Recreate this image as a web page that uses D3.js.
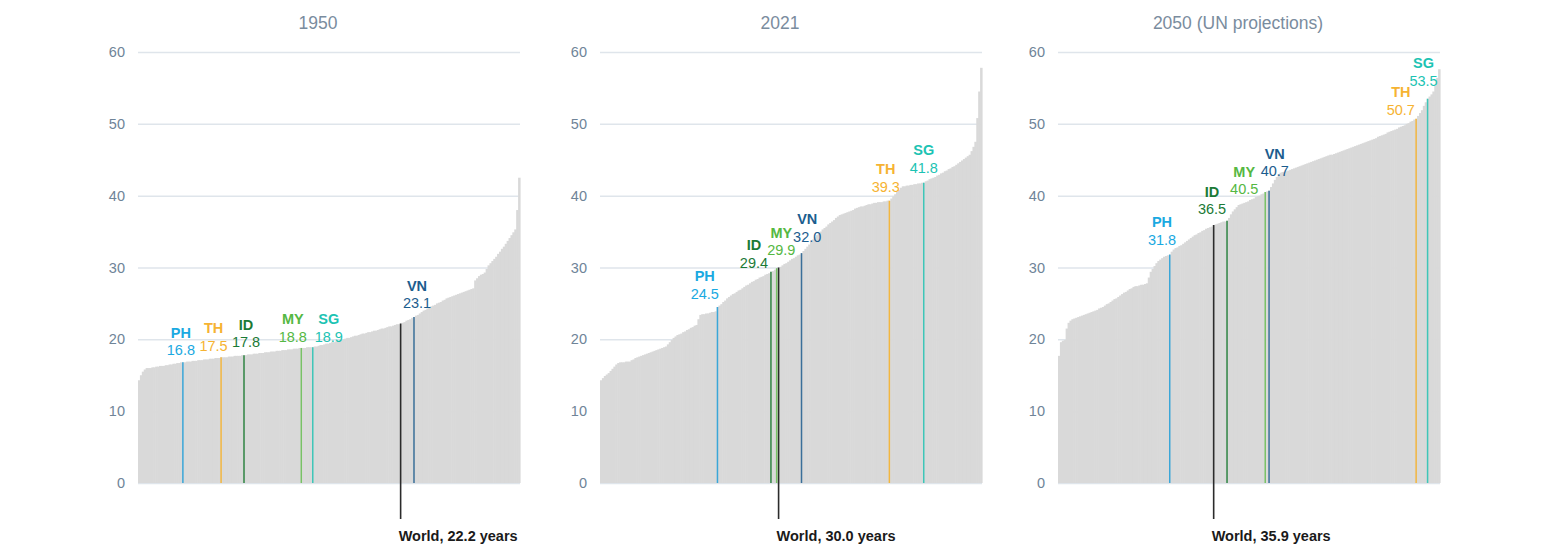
<!DOCTYPE html>
<html>
<head>
<meta charset="utf-8">
<script src="https://cdnjs.cloudflare.com/ajax/libs/d3/7.8.5/d3.min.js"></script>
<style>
  body { margin: 0; background: #fff; }
  svg text { font-family: "Liberation Sans", Arial, sans-serif; }
</style>
</head>
<body>
<svg id="chart" width="1557" height="555"></svg>
<script>
// median age by country, sorted low to high
var panelTitles = ['1950', '2021', '2050 (UN projections)'];

var median1950 = [
  14.3, 15.0, 15.5, 15.8, 16.0, 16.0, 16.0, 16.1, 16.1, 16.2, 16.2, 16.3, 16.3, 16.3, 16.4, 16.4, 16.5, 16.5, 16.6, 16.6,
  16.7, 16.7, 16.8, 16.8, 16.8, 16.9, 16.9, 16.9, 17.0, 17.0, 17.0, 17.1, 17.1, 17.1, 17.2, 17.2, 17.2, 17.3, 17.3, 17.3,
  17.4, 17.4, 17.4, 17.5, 17.5, 17.5, 17.5, 17.6, 17.6, 17.6, 17.7, 17.7, 17.7, 17.7, 17.8, 17.8, 17.8, 17.9, 17.9, 17.9,
  18.0, 18.0, 18.0, 18.1, 18.1, 18.1, 18.2, 18.2, 18.2, 18.3, 18.3, 18.3, 18.4, 18.4, 18.4, 18.5, 18.5, 18.5, 18.6, 18.6,
  18.6, 18.7, 18.7, 18.7, 18.8, 18.8, 18.8, 18.8, 18.9, 18.9, 18.9, 18.9, 19.0, 19.0, 19.1, 19.2, 19.2, 19.3, 19.4, 19.4,
  19.5, 19.6, 19.6, 19.7, 19.8, 19.8, 19.9, 20.0, 20.1, 20.2, 20.2, 20.3, 20.4, 20.5, 20.5, 20.6, 20.7, 20.8, 20.8, 20.9,
  21.0, 21.0, 21.1, 21.2, 21.2, 21.3, 21.4, 21.5, 21.5, 21.6, 21.7, 21.8, 21.8, 21.9, 22.0, 22.1, 22.1, 22.2, 22.3, 22.4,
  22.6, 22.7, 22.8, 23.0, 23.1, 23.3, 23.4, 23.6, 23.8, 24.0, 24.1, 24.3, 24.5, 24.6, 24.7, 24.8, 25.0, 25.1, 25.2, 25.4,
  25.5, 25.7, 25.8, 25.9, 26.0, 26.1, 26.2, 26.3, 26.4, 26.5, 26.6, 26.7, 26.8, 26.9, 27.0, 27.1, 28.2, 28.5, 28.8, 29.0,
  29.1, 29.3, 29.8, 30.3, 30.6, 30.9, 31.2, 31.5, 31.9, 32.2, 32.6, 32.9, 33.3, 33.7, 34.1, 34.5, 34.9, 35.3, 38.0, 42.5
];

var median2021 = [
  14.3, 14.6, 14.9, 15.1, 15.3, 15.6, 15.9, 16.2, 16.5, 16.7, 16.8, 16.8, 16.8, 16.9, 16.9, 16.9, 17.1, 17.2, 17.4, 17.5,
  17.6, 17.7, 17.8, 17.9, 18.0, 18.1, 18.2, 18.3, 18.4, 18.5, 18.6, 18.7, 18.8, 18.9, 19.0, 19.3, 19.6, 19.9, 20.2, 20.4,
  20.6, 20.7, 20.8, 21.0, 21.1, 21.3, 21.4, 21.6, 21.7, 21.9, 22.0, 22.8, 23.4, 23.5, 23.5, 23.6, 23.6, 23.7, 23.8, 23.8,
  23.9, 24.5, 24.7, 24.9, 25.2, 25.4, 25.7, 25.9, 26.1, 26.3, 26.4, 26.6, 26.8, 26.9, 27.1, 27.3, 27.5, 27.6, 27.8, 28.0,
  28.1, 28.3, 28.4, 28.6, 28.7, 28.8, 29.0, 29.1, 29.2, 29.4, 29.5, 29.7, 29.9, 30.0, 30.1, 30.3, 30.5, 30.6, 30.8, 31.0,
  31.2, 31.3, 31.5, 31.7, 31.8, 32.0, 32.3, 32.6, 32.9, 33.2, 33.6, 33.9, 34.2, 34.5, 34.8, 35.0, 35.3, 35.5, 35.7, 36.0,
  36.2, 36.4, 36.6, 36.9, 37.1, 37.3, 37.4, 37.5, 37.6, 37.7, 37.8, 37.9, 38.0, 38.2, 38.3, 38.4, 38.5, 38.5, 38.6, 38.7,
  38.8, 38.8, 38.9, 39.0, 39.0, 39.1, 39.1, 39.1, 39.2, 39.2, 39.3, 39.3, 39.6, 39.9, 40.2, 40.5, 40.8, 41.1, 41.3, 41.3,
  41.4, 41.4, 41.5, 41.5, 41.6, 41.6, 41.7, 41.7, 41.8, 41.8, 42.0, 42.1, 42.3, 42.4, 42.5, 42.6, 42.8, 42.9, 43.1, 43.2,
  43.4, 43.5, 43.7, 43.8, 44.0, 44.1, 44.3, 44.5, 44.7, 44.9, 45.1, 45.3, 45.5, 45.7, 46.2, 46.8, 47.5, 50.8, 54.5, 57.8
];

var median2050 = [
  17.7, 19.6, 19.8, 19.9, 21.5, 22.3, 22.6, 22.8, 22.9, 23.0, 23.1, 23.2, 23.3, 23.4, 23.5, 23.6, 23.7, 23.8, 23.9, 24.0,
  24.1, 24.3, 24.4, 24.5, 24.7, 24.9, 25.0, 25.2, 25.4, 25.6, 25.7, 25.9, 26.1, 26.3, 26.5, 26.6, 26.8, 27.0, 27.1, 27.3,
  27.4, 27.4, 27.5, 27.6, 27.6, 27.7, 27.8, 28.6, 29.4, 29.8, 30.2, 30.6, 30.9, 31.1, 31.3, 31.5, 31.6, 31.7, 31.8, 32.2,
  32.5, 32.7, 32.8, 33.0, 33.1, 33.3, 33.5, 33.7, 33.9, 34.1, 34.3, 34.5, 34.6, 34.8, 34.9, 35.1, 35.2, 35.4, 35.5, 35.6,
  35.7, 35.9, 36.0, 36.1, 36.2, 36.3, 36.4, 36.4, 36.5, 36.9, 37.4, 37.8, 38.1, 38.4, 38.7, 38.8, 38.9, 39.0, 39.1, 39.2,
  39.4, 39.5, 39.6, 39.8, 39.9, 40.0, 40.2, 40.3, 40.5, 40.6, 40.7, 41.2, 41.7, 42.2, 42.6, 43.0, 43.2, 43.3, 43.3, 43.4,
  43.5, 43.6, 43.7, 43.8, 43.9, 44.0, 44.1, 44.2, 44.3, 44.4, 44.5, 44.6, 44.7, 44.8, 44.9, 45.0, 45.1, 45.2, 45.3, 45.4,
  45.5, 45.6, 45.7, 45.7, 45.8, 45.9, 46.0, 46.1, 46.2, 46.3, 46.4, 46.5, 46.6, 46.7, 46.8, 46.9, 47.0, 47.1, 47.2, 47.3,
  47.4, 47.5, 47.6, 47.7, 47.8, 47.9, 48.0, 48.2, 48.3, 48.4, 48.5, 48.6, 48.8, 48.9, 49.0, 49.1, 49.2, 49.3, 49.5, 49.6,
  49.7, 49.8, 50.0, 50.1, 50.3, 50.4, 50.6, 50.7, 51.1, 51.5, 51.9, 52.5, 53.0, 53.5, 53.8, 54.1, 54.5, 55.3, 56.4, 57.6
];

// ASEAN countries picked out, with their place in the sorted list
var countryCodes = ['PH', 'TH', 'ID', 'MY', 'SG', 'VN'];
var country1950 = [16.8, 17.5, 17.8, 18.8, 18.9, 23.1];
var country2021 = [24.5, 39.3, 29.4, 29.9, 41.8, 32.0];
var country2050 = [31.8, 50.7, 36.5, 40.5, 53.5, 40.7];
var rank1950 = [23, 43, 55, 85, 91, 144];
var rank2021 = [61, 151, 89, 92, 169, 105];
var rank2050 = [58, 187, 88, 108, 193, 110];

var worldMedian = [22.2, 30.0, 35.9];
var worldRank = [137, 93, 81];

var yTicks = [0, 10, 20, 30, 40, 50, 60];

// look
var countryColors = {PH: '#1aa9e1', TH: '#f6b332', ID: '#1b7a36', MY: '#55b843', SG: '#1cc3b3', VN: '#1c5d8e'};
var lineColors = {PH: '#3aa6d8', TH: '#f2b640', ID: '#2f8443', MY: '#78c266', SG: '#3ec6b8', VN: '#3a6f99'};
// label nudge per panel: [dx from line, gap above top of line]
var nudges = [
  {PH: [-2, 12], TH: [-7.5, 11.5], ID: [2, 13], MY: [-8.5, 11.5], SG: [16, 10.5], VN: [3, 14]},
  {PH: [-12.7, 13.5], TH: [-3.6, 14], ID: [-17, 9], MY: [4.6, 18], SG: [0, 15], VN: [5.7, 16.3]},
  {PH: [-7.7, 14.7], TH: [-15.3, 9], ID: [-15, 11.6], MY: [-21, 3], SG: [-4, 18], VN: [5.7, 19.5]}
];

var panels = [
  {title: panelTitles[0], values: median1950, cvals: country1950, ranks: rank1950},
  {title: panelTitles[1], values: median2021, cvals: country2021, ranks: rank2021},
  {title: panelTitles[2], values: median2050, cvals: country2050, ranks: rank2050}
];

var plotLeft = [138, 600, 1058];
var plotWidth = 382;
var svg = d3.select('#chart');
var y = d3.scaleLinear().domain([0, 60]).range([483, 52]);

panels.forEach(function(p, i){
    var g = svg.append('g');
    var x = d3.scaleBand()
        .domain(d3.range(p.values.length))
        .range([plotLeft[i], plotLeft[i] + plotWidth])
        .padding(0);
    var bw = x.bandwidth();

    // title
    g.append('text')
        .attr('x', plotLeft[i] + plotWidth / 2 - 11)
        .attr('y', 28.5)
        .attr('text-anchor', 'middle')
        .style('font-size', '17.5px')
        .attr('fill', '#7a8c9e')
        .text(p.title);

    // grid + y labels
    var yAxis = d3.axisLeft(y).tickValues(yTicks).tickSize(-plotWidth).tickPadding(13);
    g.append('g')
        .attr('transform', 'translate(' + plotLeft[i] + ',0)')
        .call(yAxis)
        .call(function(a){
            a.select('.domain').remove();
            a.selectAll('line').attr('stroke', '#dfe5eb').attr('stroke-width', 1.5);
            a.selectAll('text').attr('fill', '#6f8498').style('font-size', '14.5px')
                .style('font-family', '"Liberation Sans", Arial, sans-serif');
        });

    // grey bars, one per country
    g.append('g').selectAll('rect')
        .data(p.values)
        .join('rect')
        .attr('x', function(d, j){ return x(j); })
        .attr('width', bw + 0.6)
        .attr('y', function(d){ return y(d); })
        .attr('height', function(d){ return y(0) - y(d); })
        .attr('fill', '#d9d9d9');

    // world line + label
    var wx = x(worldRank[i]) + bw / 2;
    g.append('line')
        .attr('x1', wx).attr('x2', wx)
        .attr('y1', y(worldMedian[i])).attr('y2', 519)
        .attr('stroke', '#2b2b2b').attr('stroke-width', 1.6);
    g.append('text')
        .attr('x', wx - 2)
        .attr('y', 541)
        .style('font-size', '14.5px')
        .style('font-weight', 'bold')
        .attr('fill', '#1a1a1a')
        .text('World, ' + worldMedian[i].toFixed(1) + ' years');

    // highlighted countries
    countryCodes.forEach(function(code, k){
        var v = p.cvals[k];
        var cx = x(p.ranks[k]) + bw / 2;
        var n = nudges[i][code];
        g.append('line')
            .attr('x1', cx).attr('x2', cx)
            .attr('y1', y(0)).attr('y2', y(v))
            .attr('stroke', lineColors[code]).attr('stroke-width', 1.5);
        var valY = y(v) - n[1];
        g.append('text')
            .attr('x', cx + n[0])
            .attr('y', valY)
            .attr('dy', '0.35em')
            .attr('text-anchor', 'middle')
            .style('font-size', '14.5px')
            .attr('fill', countryColors[code])
            .text(v.toFixed(1));
        g.append('text')
            .attr('x', cx + n[0])
            .attr('y', valY - 17.5)
            .attr('dy', '0.35em')
            .attr('text-anchor', 'middle')
            .style('font-size', '14.5px')
            .style('font-weight', 'bold')
            .attr('fill', countryColors[code])
            .text(code);
    });
});
</script>
</body>
</html>
